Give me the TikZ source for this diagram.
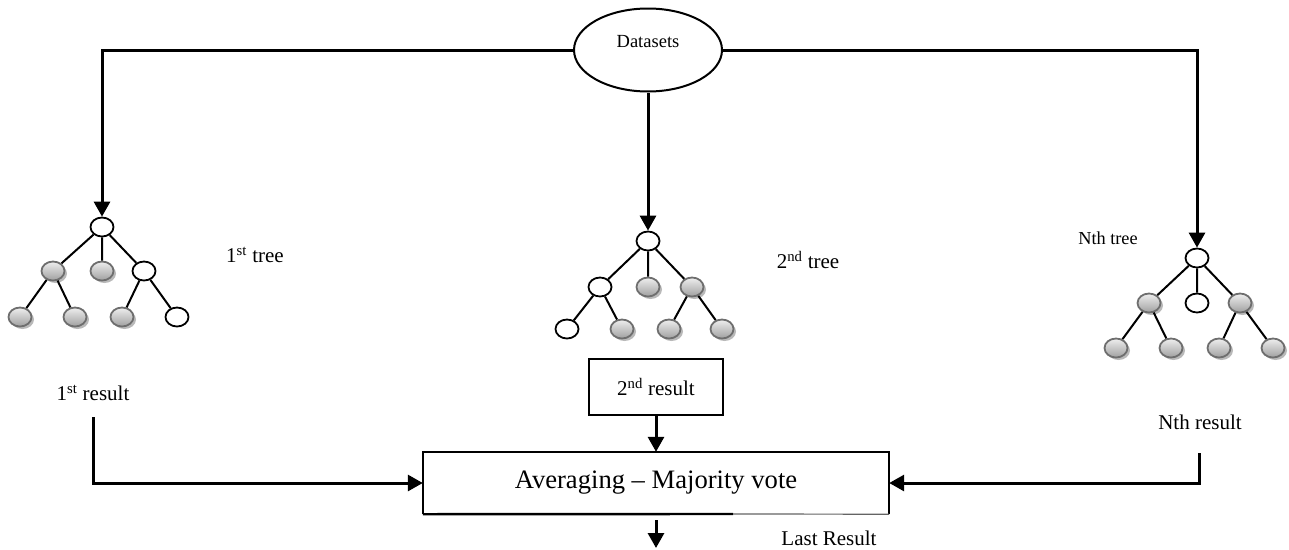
\documentclass[tikz,border=0pt]{standalone}
\usepackage{fontspec}
\setmainfont{Liberation Serif}
\usetikzlibrary{arrows.meta,shapes.geometric,shadows}
\definecolor{ballrim}{RGB}{110,110,110}
\definecolor{balltop}{RGB}{238,238,238}
\definecolor{ballbot}{RGB}{160,160,160}
\definecolor{ballshade}{RGB}{185,185,185}
\definecolor{thinrule}{RGB}{100,100,100}
\begin{document}
\begin{tikzpicture}[x=1pt,y=-1pt,
  leaf/.style={ellipse,minimum width=23pt,minimum height=19pt,inner sep=0pt,line width=1.8pt},
  open/.style={leaf,draw=black,fill=white},
  ball/.style={leaf,draw=ballrim,top color=balltop,bottom color=ballbot,
    drop shadow={shadow xshift=2.5pt,shadow yshift=-2.5pt,fill=ballshade,opacity=1}},
  edge/.style={line width=2pt},
  flow/.style={line width=3pt,-{Triangle[length=15pt,width=16pt]}},
  lbl/.style={font=\fontsize{21}{24}\selectfont,inner sep=0pt},
  frame/.style={line width=2.4pt}
]
\useasboundingbox (0,0) rectangle (1289,549);

% source
\node[ellipse,draw,line width=2pt,minimum width=148pt,minimum height=83pt] (ds) at (648,50) {};
\node[font=\fontsize{18.5}{20}\selectfont] (dstext) at (648,42) {Datasets};

% first tree
\node[open] (a0) at (102,227) {};
\node[ball] (a1) at (53,271) {};
\node[ball] (a2) at (102,271) {};
\node[open] (a3) at (144,271) {};
\node[ball] (a4) at (20,317) {};
\node[ball] (a5) at (75,317) {};
\node[ball] (a6) at (122,317) {};
\node[open] (a7) at (177,317) {};
\draw[edge] (a0) -- (a1) (a0) -- (a2) (a0) -- (a3)
            (a1) -- (a4) (a1) -- (a5) (a3) -- (a6) (a3) -- (a7);
\node[lbl] (lt1) at (255,255) {1\textsuperscript{st} tree};

% second tree
\node[open] (b0) at (648,241) {};
\node[open] (b1) at (600,287) {};
\node[ball] (b2) at (648,287) {};
\node[ball] (b3) at (692,287) {};
\node[open] (b4) at (567,329) {};
\node[ball] (b5) at (622,329) {};
\node[ball] (b6) at (669,329) {};
\node[ball] (b7) at (722,329) {};
\draw[edge] (b0) -- (b1) (b0) -- (b2) (b0) -- (b3)
            (b1) -- (b4) (b1) -- (b5) (b3) -- (b6) (b3) -- (b7);
\node[lbl] (lt2) at (808,260) {2\textsuperscript{nd} tree};

% last tree
\node[open] (c0) at (1197,258) {};
\node[ball] (c1) at (1149,303) {};
\node[open] (c2) at (1197,303) {};
\node[ball] (c3) at (1240,303) {};
\node[ball] (c4) at (1116,348) {};
\node[ball] (c5) at (1171,348) {};
\node[ball] (c6) at (1219,348) {};
\node[ball] (c7) at (1273,348) {};
\draw[edge] (c0) -- (c1) (c0) -- (c2) (c0) -- (c3)
            (c1) -- (c4) (c1) -- (c5) (c3) -- (c6) (c3) -- (c7);
\node[lbl,font=\fontsize{18.3}{21}\selectfont] (lt3) at (1108,238) {Nth tree};

% datasets feed every tree
\draw[flow] (ds.west) -| (a0);
\draw[flow] (ds.south) -- (b0);
\draw[flow] (ds.east) -| (c0);

% combining stage
\node[minimum width=466pt,minimum height=62pt,inner sep=0pt,
      font=\fontsize{26.6}{30}\selectfont] (avg) at (656,483) {Averaging -- Majority vote};
\coordinate (cut) at (733,514);
\draw[frame] (avg.south west) -- (avg.north west) -- (avg.north east) -- (avg.south east);
\draw[frame] (avg.south west) -- (cut);
\draw[line width=1.2pt,thinrule] (cut) -- (avg.south east);

% results
\node[lbl] (r1) at (93,393) {1\textsuperscript{st} result};
\coordinate (r1out) at (93,417);
\draw[flow] (r1out) |- (avg.west);

\node[lbl,draw,line width=2pt,minimum width=134pt,minimum height=56pt] (r2) at (656,387) {2\textsuperscript{nd} result};
\draw[flow] (r2.south) -- (avg.north);

\node[lbl] (r3) at (1200,422) {Nth result};
\coordinate (r3out) at (1199,453);
\draw[flow] (r3out) |- (avg.east);

% output
\coordinate (o1) at (656,520);
\coordinate (o2) at (656,548);
\draw[flow] (o1) -- (o2);
\node[lbl] (last) at (829,538) {Last Result};
\end{tikzpicture}
\end{document}
